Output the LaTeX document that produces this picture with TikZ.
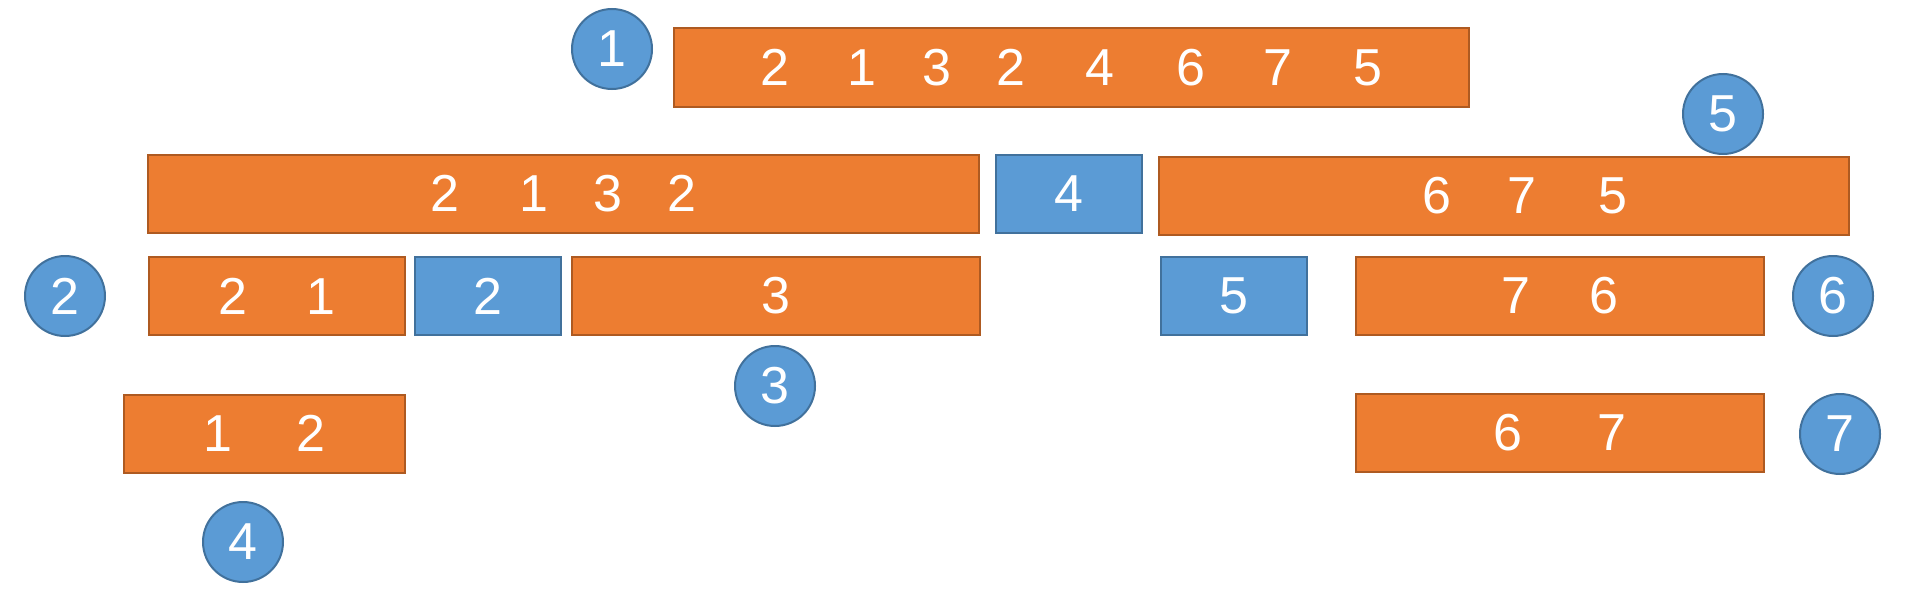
\documentclass[tikz,border=0pt]{standalone}
\usepackage{fontspec}
\setmainfont{Liberation Sans}
\usetikzlibrary{positioning}
\definecolor{part}{RGB}{237,125,49}
\definecolor{partline}{RGB}{174,90,33}
\definecolor{pivot}{RGB}{91,155,213}
\definecolor{pivotline}{RGB}{65,113,156}

\begin{document}
\begin{tikzpicture}[x=1pt, y=-1pt,
    seg/.style={draw=partline, fill=part, line width=2pt, minimum height=78pt, inner sep=0pt, outer sep=0pt, text=white, font=\fontsize{52}{52}\selectfont},
    piv/.style={seg, draw=pivotline, fill=pivot, minimum width=146pt},
    stepnum/.style={circle, draw=pivotline, fill=pivot, line width=2pt, minimum size=80pt, inner sep=0pt, text=white, font=\fontsize{52}{52}\selectfont}
]
    \useasboundingbox (0,0) rectangle (1926,602);

    % whole array
    \node[seg, minimum width=795pt] (s0) at (1071.5,67.5) {2\hspace{58pt}1\hspace{46pt}3\hspace{45pt}2\hspace{60pt}4\hspace{62pt}6\hspace{58pt}7\hspace{61pt}5};

    % first split
    \node[seg, minimum width=831pt] (l1) at (563.5,194) {2\hspace{60pt}1\hspace{45pt}3\hspace{45pt}2};
    \node[piv, right=17pt of l1] (p1) {4};
    \node[seg, minimum width=690pt, right=17pt of p1, yshift=-2pt] (r1) {\hspace{42pt}6\hspace{56pt}7\hspace{63pt}5};

    % second split
    \node[seg, minimum width=256pt] (l2) at (277,296) {2\hspace{60pt}1};
    \node[piv, right=10pt of l2] (p2) {2};
    \node[seg, minimum width=408pt, right=11pt of p2] (r2) {3};
    \node[piv] (p3) at (1234,296) {5};
    \node[seg, minimum width=408pt, right=49pt of p3] (r3) {7\hspace{60pt}6};

    % last swaps
    \node[seg, minimum width=281pt] (l3) at (264.5,433.5) {1\hspace{64pt}2};
    \node[seg, minimum width=408pt, below=59pt of r3] (r4) {6\hspace{76pt}7};

    % step numbers
    \node[stepnum] (n1) at (612,49) {1};
    \node[stepnum] (n2) at (65,296) {2};
    \node[stepnum] (n3) at (775,386) {3};
    \node[stepnum] (n4) at (243,542) {4};
    \node[stepnum] (n5) at (1723,114) {5};
    \node[stepnum] (n6) at (1833,296) {6};
    \node[stepnum] (n7) at (1840,434) {7};
\end{tikzpicture}
\end{document}
